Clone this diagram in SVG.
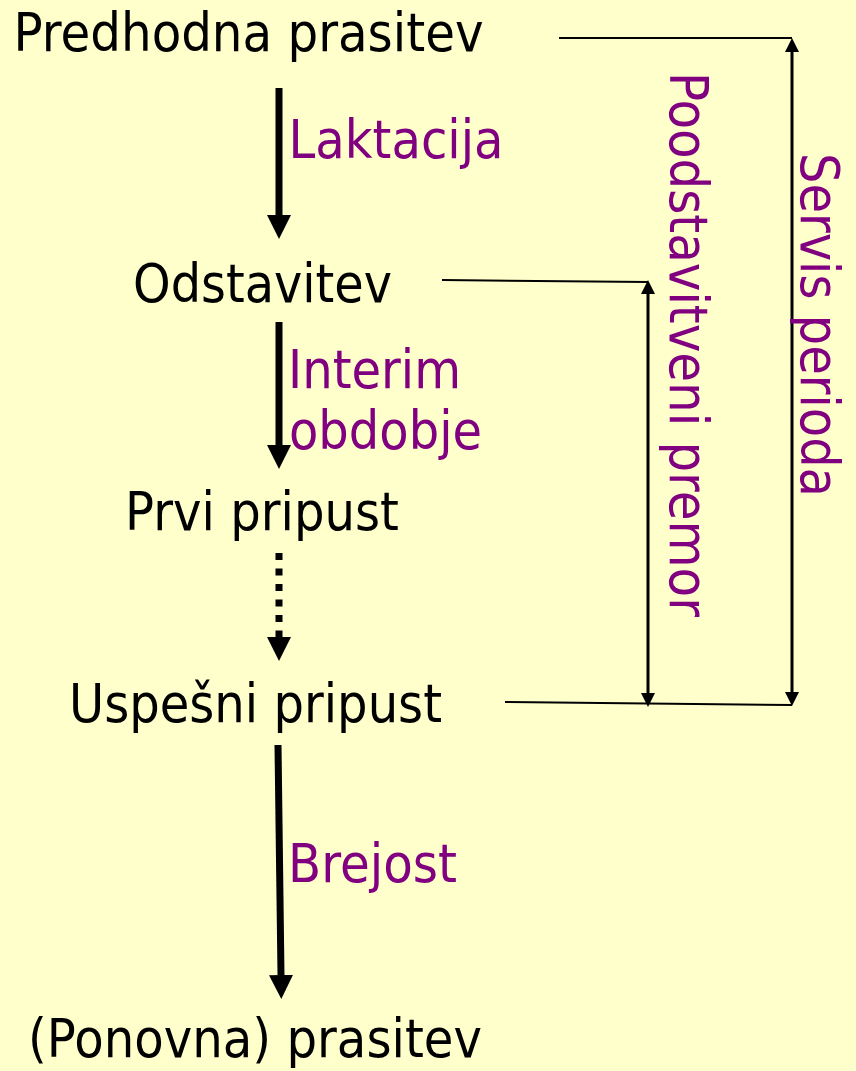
<svg xmlns="http://www.w3.org/2000/svg" width="856" height="1071" viewBox="0 0 856 1071">
<defs>
<style>
text{font-family:"DejaVu Sans",sans-serif;font-size:53px}
.n{fill:#000}
.l{fill:#800080}
.thick{stroke:#000;stroke-width:7;fill:none}
.thin{stroke:#000;stroke-width:3;fill:none}
.hl{stroke:#000;stroke-width:2;fill:none}
</style>
<marker id="big" viewBox="0 0 24 24" markerWidth="24" markerHeight="24" refX="0" refY="12" orient="auto" markerUnits="userSpaceOnUse">
<path d="M0,0 L24,12 L0,24 Z" fill="#000"/>
</marker>
<marker id="sm" viewBox="0 0 14 14" markerWidth="14" markerHeight="14" refX="0" refY="7" orient="auto" markerUnits="userSpaceOnUse">
<path d="M0,0 L14,7 L0,14 Z" fill="#000"/>
</marker>
<marker id="smS" viewBox="0 0 14 14" markerWidth="14" markerHeight="14" refX="0" refY="7" orient="auto-start-reverse" markerUnits="userSpaceOnUse">
<path d="M0,0 L14,7 L0,14 Z" fill="#000"/>
</marker>
</defs>
<rect width="856" height="1071" fill="#FFFFCC"/>
<g id="n1"><text class="n" x="13.5" y="51" textLength="470" lengthAdjust="spacingAndGlyphs">Predhodna prasitev</text></g>
<g id="n2"><text class="n" x="133" y="302" textLength="259" lengthAdjust="spacingAndGlyphs">Odstavitev</text></g>
<g id="n3"><text class="n" x="125" y="530" textLength="274" lengthAdjust="spacingAndGlyphs">Prvi pripust</text></g>
<g id="n4"><text class="n" x="69" y="722" textLength="373" lengthAdjust="spacingAndGlyphs">Uspešni pripust</text></g>
<g id="n5"><text class="n" x="28" y="1057" textLength="454" lengthAdjust="spacingAndGlyphs">(Ponovna) prasitev</text></g>
<g id="connectors">
<line class="thick" x1="279" y1="88" x2="279" y2="215" marker-end="url(#big)"/>
<line class="thick" x1="279" y1="322" x2="279" y2="445" marker-end="url(#big)"/>
<line class="thick" x1="279" y1="553" x2="279" y2="637" stroke-dasharray="7 8.5" marker-end="url(#big)"/>
<line class="thick" x1="278" y1="745" x2="281" y2="975" marker-end="url(#big)"/>
<line class="hl" x1="559" y1="38" x2="792" y2="38"/>
<line class="hl" x1="442" y1="280" x2="648" y2="282"/>
<line class="hl" x1="505" y1="702" x2="792" y2="705"/>
<line class="thin" x1="792" y1="52" x2="792" y2="692" marker-start="url(#smS)" marker-end="url(#sm)"/>
<line class="thin" x1="648" y1="294" x2="648" y2="693" marker-start="url(#smS)" marker-end="url(#sm)"/>
</g>
<g id="labels">
<text class="l" x="288.5" y="158" textLength="215" lengthAdjust="spacingAndGlyphs">Laktacija</text>
<text class="l" x="288" y="388" textLength="173" lengthAdjust="spacingAndGlyphs">Interim</text>
<text class="l" x="289" y="449" textLength="193" lengthAdjust="spacingAndGlyphs">obdobje</text>
<text class="l" x="288" y="882" textLength="169" lengthAdjust="spacingAndGlyphs">Brejost</text>
<text class="l" transform="translate(670,72) rotate(90)" textLength="545" lengthAdjust="spacingAndGlyphs">Poodstavitveni premor</text>
<text class="l" transform="translate(801,153) rotate(90)" textLength="344" lengthAdjust="spacingAndGlyphs">Servis perioda</text>
</g>
</svg>
